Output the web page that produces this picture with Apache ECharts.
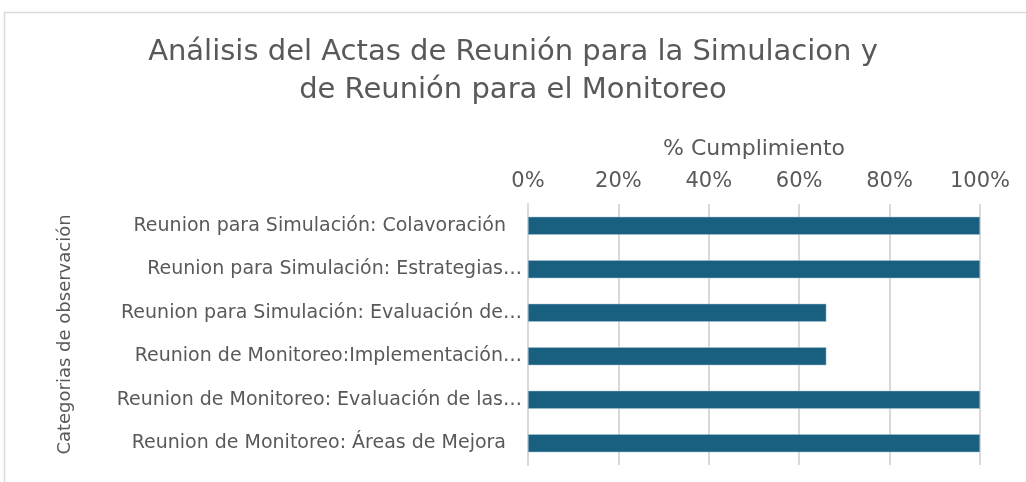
<!DOCTYPE html>
<html>
<head>
<meta charset="utf-8">
<script src="https://cdn.jsdelivr.net/npm/echarts@6/dist/echarts.min.js"></script>
<style>
  html, body { margin: 0; padding: 0; background: #fff; }
  #chart { width: 1026px; height: 482px; }
</style>
</head>
<body>
<div id="chart"></div>
<script>
// categorias (tal como se ven en el gráfico, de arriba hacia abajo)
const categorias = [
  'Reunion para Simulación: Colavoración',
  'Reunion para Simulación: Estrategias…',
  'Reunion para Simulación: Evaluación de…',
  'Reunion de Monitoreo:Implementación…',
  'Reunion de Monitoreo: Evaluación de las…',
  'Reunion de Monitoreo: Áreas de Mejora'
];
// % cumplimiento
const cumplimiento = [100, 100, 66, 66, 100, 100];
const ticksX = [0, 20, 40, 60, 80, 100];

const chart = echarts.init(document.getElementById('chart'));
const gris = '#595959';
const fuente = 'DejaVu Sans';

const option = {
  backgroundColor: '#fff',
  animation: false,
  textStyle: { fontFamily: fuente },
  graphic: [{
    type: 'rect',
    shape: { x: 4.5, y: 12.5, width: 1030, height: 480 },
    style: { fill: 'none', stroke: '#d9d9d9', lineWidth: 1.5 }
  }],
  title: {
    text: 'Análisis del Actas de Reunión para la Simulacion y\nde Reunión para el Monitoreo',
    left: 'center',
    top: 28,
    textStyle: { color: gris, fontSize: 29, fontWeight: 'normal', lineHeight: 38, fontFamily: fuente }
  },
  grid: { left: 528, right: 46, top: 204, bottom: 17 },
  xAxis: {
    type: 'value',
    position: 'top',
    min: 0,
    max: 100,
    interval: 20,
    name: '% Cumplimiento',
    nameLocation: 'middle',
    nameGap: 44,
    nameTextStyle: { color: gris, fontSize: 22 },
    axisLine: { show: false },
    axisTick: { show: false },
    axisLabel: {
      color: gris, fontSize: 21, margin: 12,
      formatter: v => ticksX.includes(v) ? v + '%' : ''
    },
    splitLine: { show: true, lineStyle: { color: '#d9d9d9', width: 2 } }
  },
  yAxis: {
    type: 'category',
    inverse: true,
    data: categorias,
    name: 'Categorias de observación',
    nameLocation: 'middle',
    nameRotate: 90,
    nameGap: 454,
    nameTextStyle: { color: gris, fontSize: 18 },
    axisLine: { show: true, lineStyle: { color: '#d9d9d9', width: 2 } },
    axisTick: { show: false },
    axisLabel: {
      color: gris, fontSize: 19, margin: 6,
      // las etiquetas completas quedan un poco separadas del eje
      formatter: v => v.endsWith('…') ? v : '{c|' + v + '}',
      rich: { c: { color: gris, fontSize: 19, fontFamily: fuente, padding: [0, 16, 0, 0] } }
    }
  },
  series: [{
    type: 'bar',
    data: cumplimiento,
    barWidth: 18,
    itemStyle: { color: '#185f80', borderColor: '#a9c4d2', borderWidth: 0.5 }
  }]
};
chart.setOption(option);
</script>
</body>
</html>
